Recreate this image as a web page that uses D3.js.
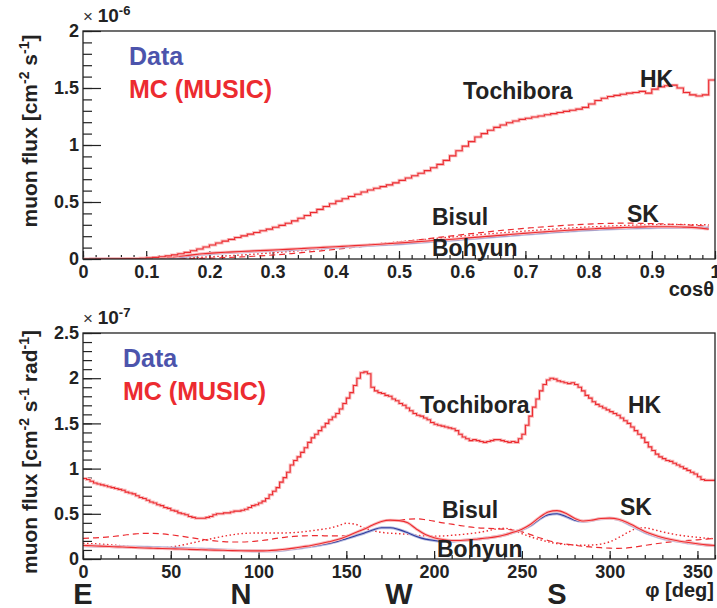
<!DOCTYPE html>
<html lang="en">
<head>
<meta charset="UTF-8">
<title>Muon flux</title>
<style>
  body { margin: 0; background: #fff; }
  svg { display: block; font-family: "Liberation Sans", Arial, Helvetica, sans-serif; }
  .tick text { font-size: 18px; font-weight: bold; fill: #222; }
  .lab { font-weight: bold; fill: #222; }
</style>
</head>
<body>
<svg id="chart" width="717" height="608"></svg>
<script src="https://cdnjs.cloudflare.com/ajax/libs/d3/7.8.5/d3.min.js"></script>
<script>
// ---- data: cos(theta) panel, units of 1e-6 cm^-2 s^-1 ----
// Tochibora / HK MC, 100 bins of 0.01
var cosTochibora = [
  0.000, 0.000, 0.001, 0.001, 0.002, 0.002, 0.003, 0.004, 0.005, 0.007,
  0.010, 0.014, 0.020, 0.027, 0.036, 0.046, 0.058, 0.072, 0.088, 0.105,
  0.123, 0.140, 0.157, 0.172, 0.188, 0.203, 0.218, 0.233, 0.248, 0.262,
  0.278, 0.295, 0.314, 0.334, 0.357, 0.382, 0.408, 0.435, 0.460, 0.485,
  0.508, 0.528, 0.548, 0.568, 0.588, 0.605, 0.620, 0.635, 0.650, 0.668,
  0.690, 0.710, 0.730, 0.752, 0.775, 0.800, 0.830, 0.865, 0.905, 0.950,
  0.990, 1.030, 1.070, 1.100, 1.130, 1.155, 1.175, 1.195, 1.210, 1.225,
  1.235, 1.245, 1.255, 1.265, 1.275, 1.285, 1.295, 1.305, 1.315, 1.330,
  1.360, 1.390, 1.410, 1.425, 1.435, 1.445, 1.455, 1.460, 1.470, 1.455,
  1.490, 1.510, 1.520, 1.525, 1.500, 1.460, 1.440, 1.430, 1.440, 1.570
];
// lower curves, 50 bins of 0.02
var cosData = [
  0.000, 0.000, 0.000, 0.001, 0.002, 0.004, 0.008, 0.015, 0.028, 0.042,
  0.050, 0.056, 0.062, 0.067, 0.072, 0.077, 0.082, 0.088, 0.094, 0.100,
  0.106, 0.112, 0.118, 0.124, 0.130, 0.137, 0.145, 0.153, 0.161, 0.169,
  0.177, 0.186, 0.195, 0.204, 0.213, 0.222, 0.230, 0.238, 0.245, 0.252,
  0.258, 0.263, 0.267, 0.271, 0.274, 0.276, 0.277, 0.276, 0.274, 0.270
];
var cosSK = [
  0.000, 0.000, 0.000, 0.001, 0.003, 0.006, 0.012, 0.022, 0.034, 0.046,
  0.054, 0.060, 0.066, 0.071, 0.076, 0.081, 0.087, 0.093, 0.099, 0.105,
  0.111, 0.117, 0.123, 0.130, 0.137, 0.144, 0.152, 0.160, 0.168, 0.176,
  0.185, 0.194, 0.203, 0.212, 0.221, 0.230, 0.238, 0.246, 0.253, 0.260,
  0.266, 0.271, 0.275, 0.279, 0.282, 0.283, 0.283, 0.280, 0.275, 0.262
];
var cosBisul = [
  0.000, 0.000, 0.000, 0.000, 0.000, 0.001, 0.002, 0.003, 0.004, 0.006,
  0.009, 0.013, 0.018, 0.024, 0.031, 0.039, 0.048, 0.058, 0.068, 0.079,
  0.091, 0.103, 0.116, 0.129, 0.142, 0.155, 0.168, 0.181, 0.194, 0.207,
  0.220, 0.232, 0.244, 0.255, 0.265, 0.274, 0.283, 0.291, 0.298, 0.304,
  0.309, 0.312, 0.314, 0.314, 0.312, 0.309, 0.305, 0.300, 0.294, 0.288
];
var cosBohyun = [
  0.000, 0.000, 0.000, 0.000, 0.001, 0.002, 0.004, 0.007, 0.011, 0.016,
  0.022, 0.028, 0.035, 0.042, 0.050, 0.058, 0.067, 0.076, 0.086, 0.096,
  0.106, 0.116, 0.126, 0.136, 0.146, 0.156, 0.166, 0.176, 0.186, 0.196,
  0.206, 0.215, 0.224, 0.233, 0.241, 0.249, 0.257, 0.264, 0.271, 0.277,
  0.283, 0.288, 0.292, 0.296, 0.299, 0.301, 0.302, 0.302, 0.301, 0.300
];

// ---- data: phi panel, units of 1e-7 cm^-2 s^-1 rad^-1 ----
// Tochibora / HK MC, 180 bins of 2 deg
var phiTochibora = [
  0.89, 0.88, 0.86, 0.84, 0.83, 0.82, 0.81, 0.80, 0.79, 0.78,
  0.77, 0.76, 0.74, 0.73, 0.72, 0.70, 0.68, 0.67, 0.65, 0.63,
  0.62, 0.60, 0.59, 0.57, 0.56, 0.54, 0.53, 0.51, 0.50, 0.49,
  0.47, 0.46, 0.45, 0.45, 0.45, 0.46, 0.47, 0.49, 0.50, 0.50,
  0.51, 0.51, 0.52, 0.53, 0.53, 0.54, 0.55, 0.57, 0.59, 0.60,
  0.62, 0.64, 0.67, 0.71, 0.75, 0.79, 0.85, 0.90, 0.96, 1.04,
  1.09, 1.13, 1.18, 1.23, 1.29, 1.34, 1.38, 1.42, 1.46, 1.50,
  1.54, 1.57, 1.61, 1.66, 1.72, 1.78, 1.84, 1.92, 2.00, 2.06,
  2.07, 2.05, 1.90, 1.86, 1.84, 1.83, 1.81, 1.80, 1.77, 1.75,
  1.72, 1.70, 1.67, 1.64, 1.61, 1.59, 1.58, 1.56, 1.54, 1.51,
  1.49, 1.48, 1.47, 1.46, 1.45, 1.44, 1.42, 1.38, 1.35, 1.33,
  1.31, 1.32, 1.31, 1.30, 1.29, 1.30, 1.31, 1.32, 1.32, 1.31,
  1.30, 1.29, 1.30, 1.29, 1.33, 1.38, 1.48, 1.58, 1.68, 1.77,
  1.86, 1.93, 1.98, 2.00, 1.99, 1.97, 1.96, 1.95, 1.94, 1.95,
  1.93, 1.90, 1.86, 1.81, 1.78, 1.74, 1.71, 1.69, 1.67, 1.65,
  1.63, 1.61, 1.59, 1.56, 1.53, 1.50, 1.46, 1.42, 1.38, 1.34,
  1.29, 1.24, 1.20, 1.16, 1.13, 1.11, 1.09, 1.08, 1.06, 1.04,
  1.02, 1.00, 0.98, 0.96, 0.94, 0.91, 0.88, 0.87, 0.87, 0.87
];
// lower curves, sampled every 5 deg (0..360)
var phiData = [
  0.147, 0.145, 0.142, 0.138, 0.136, 0.134, 0.132, 0.130, 0.128, 0.125,
  0.122, 0.118, 0.115, 0.112, 0.108, 0.105, 0.100, 0.096, 0.093, 0.090,
  0.088, 0.088, 0.092, 0.100, 0.112, 0.125, 0.140, 0.155, 0.172, 0.195,
  0.225, 0.255, 0.285, 0.320, 0.345, 0.345, 0.325, 0.290, 0.250, 0.220,
  0.205, 0.195, 0.195, 0.205, 0.212, 0.222, 0.232, 0.245, 0.265, 0.295,
  0.325, 0.370, 0.440, 0.490, 0.500, 0.470, 0.430, 0.415, 0.428, 0.445,
  0.450, 0.435, 0.395, 0.345, 0.295, 0.260, 0.230, 0.210, 0.192, 0.178,
  0.165, 0.155, 0.147
];
var phiSK = [
  0.150, 0.146, 0.142, 0.138, 0.134, 0.130, 0.126, 0.122, 0.119, 0.116,
  0.113, 0.110, 0.107, 0.104, 0.101, 0.098, 0.096, 0.093, 0.091, 0.090,
  0.090, 0.092, 0.098, 0.108, 0.120, 0.135, 0.150, 0.168, 0.190, 0.215,
  0.250, 0.290, 0.330, 0.375, 0.415, 0.430, 0.425, 0.400, 0.330, 0.270,
  0.235, 0.215, 0.205, 0.205, 0.212, 0.222, 0.232, 0.245, 0.265, 0.295,
  0.330, 0.385, 0.460, 0.520, 0.535, 0.505, 0.450, 0.420, 0.430, 0.448,
  0.452, 0.440, 0.405, 0.355, 0.305, 0.268, 0.238, 0.215, 0.197, 0.182,
  0.168, 0.156, 0.150
];
var phiBisul = [
  0.229, 0.232, 0.238, 0.245, 0.255, 0.268, 0.278, 0.284, 0.284, 0.278,
  0.268, 0.255, 0.240, 0.225, 0.212, 0.200, 0.192, 0.188, 0.188, 0.192,
  0.200, 0.212, 0.228, 0.240, 0.250, 0.255, 0.258, 0.258, 0.255, 0.255,
  0.260, 0.285, 0.330, 0.375, 0.410, 0.425, 0.430, 0.440, 0.445, 0.435,
  0.418, 0.400, 0.385, 0.370, 0.355, 0.345, 0.340, 0.335, 0.330, 0.320,
  0.300, 0.270, 0.235, 0.205, 0.180, 0.165, 0.152, 0.140, 0.132, 0.125,
  0.120, 0.118, 0.122, 0.135, 0.150, 0.165, 0.178, 0.190, 0.198, 0.205,
  0.212, 0.220, 0.229
];
var phiBohyun = [
  0.174, 0.170, 0.165, 0.158, 0.150, 0.140, 0.128, 0.120, 0.118, 0.122,
  0.132, 0.148, 0.168, 0.190, 0.212, 0.232, 0.252, 0.268, 0.280, 0.286,
  0.288, 0.288, 0.287, 0.288, 0.292, 0.300, 0.312, 0.325, 0.340, 0.365,
  0.395, 0.385, 0.345, 0.315, 0.295, 0.285, 0.280, 0.272, 0.262, 0.255,
  0.252, 0.255, 0.262, 0.270, 0.280, 0.292, 0.310, 0.330, 0.340, 0.320,
  0.280, 0.245, 0.215, 0.190, 0.170, 0.160, 0.155, 0.152, 0.155, 0.165,
  0.190, 0.235, 0.290, 0.335, 0.345, 0.325, 0.300, 0.280, 0.262, 0.250,
  0.240, 0.230, 0.225
];

var compass = [{ label: "E", phi: 0 }, { label: "N", phi: 90 }, { label: "W", phi: 180 }, { label: "S", phi: 270 }];

var red = "#ec2b30", redHalo = "#f9bcbd", blue = "#2f3b9e", blueHalo = "#b4badf", legBlue = "#4c54ac";

var svg = d3.select("#chart");
var left = 83, right = 715;

function panel(o) {
  var x = d3.scaleLinear().domain(o.xDomain).range([left, right]);
  var y = d3.scaleLinear().domain(o.yDomain).range([o.bottom, o.top]);
  var g = svg.append("g");

  // minor ticks
  g.append("g").attr("transform", "translate(0," + o.bottom + ")")
    .call(d3.axisBottom(x).tickValues(o.xMinor).tickSize(-4).tickFormat(""))
    .call(function (s) { s.select(".domain").remove(); });
  g.append("g").attr("transform", "translate(" + left + ",0)")
    .call(d3.axisLeft(y).tickValues(o.yMinor).tickSize(-9).tickFormat(""))
    .call(function (s) { s.select(".domain").remove(); });
  // major ticks + labels
  var xa = g.append("g").attr("transform", "translate(0," + o.bottom + ")")
    .call(d3.axisBottom(x).tickValues(o.xMajor).tickSize(-8).tickPadding(6).tickFormat(o.xFormat));
  xa.select(".domain").remove();
  var ya = g.append("g").attr("transform", "translate(" + left + ",0)")
    .call(d3.axisLeft(y).tickValues(o.yMajor).tickSize(-18).tickPadding(22).tickFormat(d3.format("")));
  ya.select(".domain").remove();
  ya.selectAll(".tick text").attr("dx", 18);
  g.selectAll(".tick line").attr("stroke", "#222").attr("stroke-width", 1.2);

  // curves
  var clip = "clip" + o.top;
  g.append("clipPath").attr("id", clip).append("rect")
    .attr("x", left).attr("y", o.top).attr("width", right - left).attr("height", o.bottom - o.top);
  var cg = g.append("g").attr("clip-path", "url(#" + clip + ")");

  function drawSeries(vals, x0, step, style, hist) {
    var pts = vals.map(function (v, i) { return [x0 + i * step, v]; });
    if (hist) pts.push([x0 + vals.length * step, vals[vals.length - 1]]);
    var line = d3.line().x(function (d) { return x(d[0]); }).y(function (d) { return y(d[1]); })
      .curve(hist ? d3.curveStepAfter : d3.curveMonotoneX);
    if (style.halo) {
      cg.append("path").attr("d", line(pts)).attr("fill", "none")
        .attr("stroke", style.halo).attr("stroke-width", 3);
    }
    cg.append("path").attr("d", line(pts)).attr("fill", "none")
      .attr("stroke", style.color).attr("stroke-width", style.width || 1.1)
      .attr("stroke-dasharray", style.dash || null);
  }
  o.series.forEach(function (s) { drawSeries(s.values, s.x0, s.step, s, s.hist); });

  // frame
  g.append("rect").attr("x", left).attr("y", o.top).attr("width", right - left).attr("height", o.bottom - o.top)
    .attr("fill", "none").attr("stroke", "#222").attr("stroke-width", 1.3);

  // exponent
  var ex = g.append("text").attr("x", left).attr("y", o.top - 9).attr("font-size", 19);
  ex.append("tspan").attr("font-size", 17).attr("fill", "#333").text("\u00d7 ");
  ex.append("tspan").attr("font-weight", "bold").attr("fill", "#222").text("10");
  ex.append("tspan").attr("dy", -7).attr("font-size", 13).attr("font-weight", "bold").attr("fill", "#222").text(o.exp);

  // legend
  g.append("text").attr("class", "lab").attr("x", o.legX).attr("y", o.top + 34).attr("font-size", 25)
    .style("fill", legBlue).text("Data");
  g.append("text").attr("class", "lab").attr("x", o.legX).attr("y", o.top + 67).attr("font-size", 25)
    .style("fill", red).text("MC (MUSIC)");

  // site labels
  o.sites.forEach(function (s) {
    g.append("text").attr("class", "lab").attr("x", s.x).attr("y", s.y).attr("font-size", 23).text(s.text);
  });

  // y title: parts are [text, isSuperscript]
  var yt = g.append("text").attr("class", "lab")
    .attr("transform", "translate(37," + o.yTitleY + ") rotate(-90)").attr("text-anchor", "middle");
  var raised = false;
  o.yTitle.forEach(function (p) {
    var t = yt.append("tspan").text(p[0]).attr("font-size", p[1] ? 14 : 21);
    if (p[1] && !raised) { t.attr("dy", -8); raised = true; }
    else if (!p[1] && raised) { t.attr("dy", 8); raised = false; }
  });
  return { x: x, y: y, g: g };
}

// top panel: cos(theta)
var top1 = panel({
  xDomain: [0, 1], yDomain: [0, 2], top: 31, bottom: 259,
  xMajor: d3.range(0, 1.001, 0.1), xMinor: d3.range(0, 1.001, 0.02),
  yMajor: [0, 0.5, 1, 1.5, 2], yMinor: d3.range(0, 2.001, 0.1),
  xFormat: function (d) { return d3.format(".1~f")(d); },
  exp: "-6", legX: 129,
  series: [
    { values: cosBisul, x0: 0.01, step: 0.02, color: red, dash: "6,4", width: 1.2 },
    { values: cosBohyun, x0: 0.01, step: 0.02, color: red, dash: "1.5,2.5", width: 1.4 },
    { values: cosData, x0: 0.01, step: 0.02, color: blue, halo: blueHalo },
    { values: cosSK, x0: 0.01, step: 0.02, color: red, halo: redHalo },
    { values: cosTochibora, x0: 0, step: 0.01, color: red, halo: redHalo, hist: true }
  ],
  sites: [
    { text: "Tochibora", x: 463, y: 99 }, { text: "HK", x: 640, y: 87 },
    { text: "Bisul", x: 432, y: 225 }, { text: "SK", x: 627, y: 222 }, { text: "Bohyun", x: 432, y: 256 }
  ],
  yTitleY: 131,
  yTitle: [["muon flux [cm", false], ["-2", true], [" s", false], ["-1", true], ["]", false]]
});

// bottom panel: phi
var bot = panel({
  xDomain: [0, 360], yDomain: [0, 2.5], top: 333, bottom: 559,
  xMajor: d3.range(0, 351, 50), xMinor: d3.range(0, 361, 10),
  yMajor: [0, 0.5, 1, 1.5, 2, 2.5], yMinor: d3.range(0, 2.501, 0.1),
  xFormat: d3.format("d"),
  exp: "-7", legX: 123,
  series: [
    { values: phiBisul, x0: 0, step: 5, color: red, dash: "6,4", width: 1.2 },
    { values: phiBohyun, x0: 0, step: 5, color: red, dash: "1.5,2.5", width: 1.4 },
    { values: phiData, x0: 0, step: 5, color: blue, halo: blueHalo },
    { values: phiSK, x0: 0, step: 5, color: red, halo: redHalo },
    { values: phiTochibora, x0: 0, step: 2, color: red, halo: redHalo, hist: true }
  ],
  sites: [
    { text: "Tochibora", x: 420, y: 413 }, { text: "HK", x: 628, y: 413 },
    { text: "Bisul", x: 442, y: 518 }, { text: "SK", x: 620, y: 515 }, { text: "Bohyun", x: 437, y: 557 }
  ],
  yTitleY: 452,
  yTitle: [["muon flux [cm", false], ["-2", true], [" s", false], ["-1", true], [" rad", false], ["-1", true], ["]", false]]
});

// axis titles
svg.append("text").attr("class", "lab").attr("x", 714).attr("y", 296).attr("font-size", 20)
  .attr("text-anchor", "end").text("cos\u03b8");
svg.append("text").attr("class", "lab").attr("x", 714).attr("y", 597).attr("font-size", 20)
  .attr("text-anchor", "end").text("\u03c6 [deg]");

// compass directions under the phi axis
svg.selectAll("text.compass").data(compass).enter().append("text")
  .attr("class", "lab compass").attr("x", function (d) { return bot.x(d.phi); }).attr("y", 604)
  .attr("font-size", 29).attr("text-anchor", "middle").text(function (d) { return d.label; });
</script>
</body>
</html>
